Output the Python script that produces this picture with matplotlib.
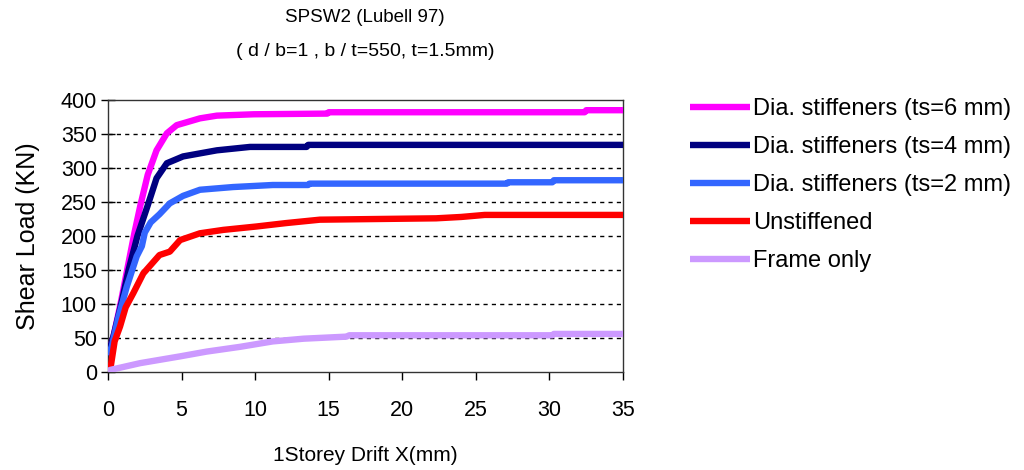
import matplotlib
matplotlib.use("Agg")
import matplotlib.pyplot as plt

plt.rcParams['font.family'] = ['Liberation Sans', 'DejaVu Sans']

# Drift (mm) and shear load (kN) per series
x_ts6 = [0, 0.1, 0.35, 0.85, 1.3, 1.8, 2.2, 2.7, 3.3, 4.0, 4.67, 6.25, 7.4, 9.9, 14.9, 15.0, 32.4, 32.5, 35]
y_ts6 = [25, 32, 50, 100, 150, 205, 245, 290, 326, 351, 363, 373, 377, 379, 380, 382, 382, 385, 385]

x_ts4 = [0, 0.1, 0.4, 0.9, 1.4, 2.0, 2.7, 3.3, 4.0, 5.1, 7.4, 9.65, 13.5, 13.6, 35]
y_ts4 = [25, 32, 55, 100, 150, 200, 245, 285, 307, 317, 326, 331, 331, 334, 334]

x_ts2 = [0, 0.25, 0.7, 1.27, 1.95, 2.3, 2.5, 2.9, 3.5, 4.2, 5.1, 6.25, 8.5, 11.2, 13.6, 13.7, 27.1, 27.2, 30.2, 30.3, 35]
y_ts2 = [25, 37, 80, 125, 170, 185, 205, 220, 232, 248, 259, 268, 272, 275, 275, 277, 277, 279, 279, 282, 282]

x_unst = [0, 0.2, 0.45, 0.82, 1.2, 1.72, 2.4, 3.5, 4.2, 4.9, 6.25, 7.84, 10.1, 12.1, 14.4, 22.3, 24.0, 25.6, 35]
y_unst = [3, 10, 45, 67, 95, 116, 145, 172, 177, 194, 204, 209, 214, 219, 224, 226, 228, 231, 231]

x_frame = [0, 0.14, 2.18, 4.9, 6.7, 8.97, 11.2, 13.3, 16.2, 16.4, 30.2, 30.3, 35]
y_frame = [0, 3, 13, 23, 30, 37, 45, 49, 52, 54, 54, 56, 56]

labels = ['Dia. stiffeners (ts=6 mm)', 'Dia. stiffeners (ts=4 mm)',
          'Dia. stiffeners (ts=2 mm)', 'Unstiffened', 'Frame only']
colors = ['#FF00FF', '#000080', '#3366FF', '#FF0000', '#CC99FF']

title_lines = ['SPSW2 (Lubell 97)', '( d / b=1 , b / t=550, t=1.5mm)']
x_ticks = [0, 5, 10, 15, 20, 25, 30, 35]
y_ticks = [0, 50, 100, 150, 200, 250, 300, 350, 400]

fig = plt.figure(figsize=(10.24, 4.70), dpi=100)
ax = fig.add_axes([108/1024, 1 - 372/470, (623-108)/1024, (372-100)/470])

series = [(x_ts6, y_ts6), (x_ts4, y_ts4), (x_ts2, y_ts2), (x_unst, y_unst), (x_frame, y_frame)]
for (xs, ys), lab, c in zip(series, labels, colors):
    ax.plot(xs, ys, color=c, lw=4.6, label=lab, solid_capstyle='butt',
            solid_joinstyle='round', zorder=3)

ax.set_xlim(0, 35)
ax.set_ylim(0, 400)
ax.set_xticks(x_ticks)
ax.set_yticks(y_ticks)
for yv in y_ticks[1:-1]:
    ax.axhline(yv, color='black', lw=1.0, ls=(0, (3, 3)), zorder=1)

ax.tick_params(axis='x', direction='out', length=6, width=1, labelsize=15.5, colors='black', pad=14)
ax.tick_params(axis='y', direction='inout', length=10, width=1, labelsize=15.5, colors='black', pad=3)
for s in ax.spines.values():
    s.set_linewidth(1.0)
    s.set_color('#333333')

ax.set_xlabel('1Storey Drift X(mm)', fontsize=15, labelpad=18)
ax.set_ylabel('Shear Load (KN)', fontsize=18, labelpad=15)

fig.text(365/1024, 1 - 18/470, title_lines[0], ha='center', va='center', fontsize=13.5)
fig.text(365/1024, 1 - 52/470, title_lines[1], ha='center', va='center', fontsize=14)

ax.legend(loc='upper left', bbox_to_anchor=((690-108)/515, 1.008), frameon=False,
          fontsize=17, handlelength=2.55, handletextpad=0.12, labelspacing=0.68,
          borderpad=0, borderaxespad=0)

fig.savefig('out.png', dpi=100)
